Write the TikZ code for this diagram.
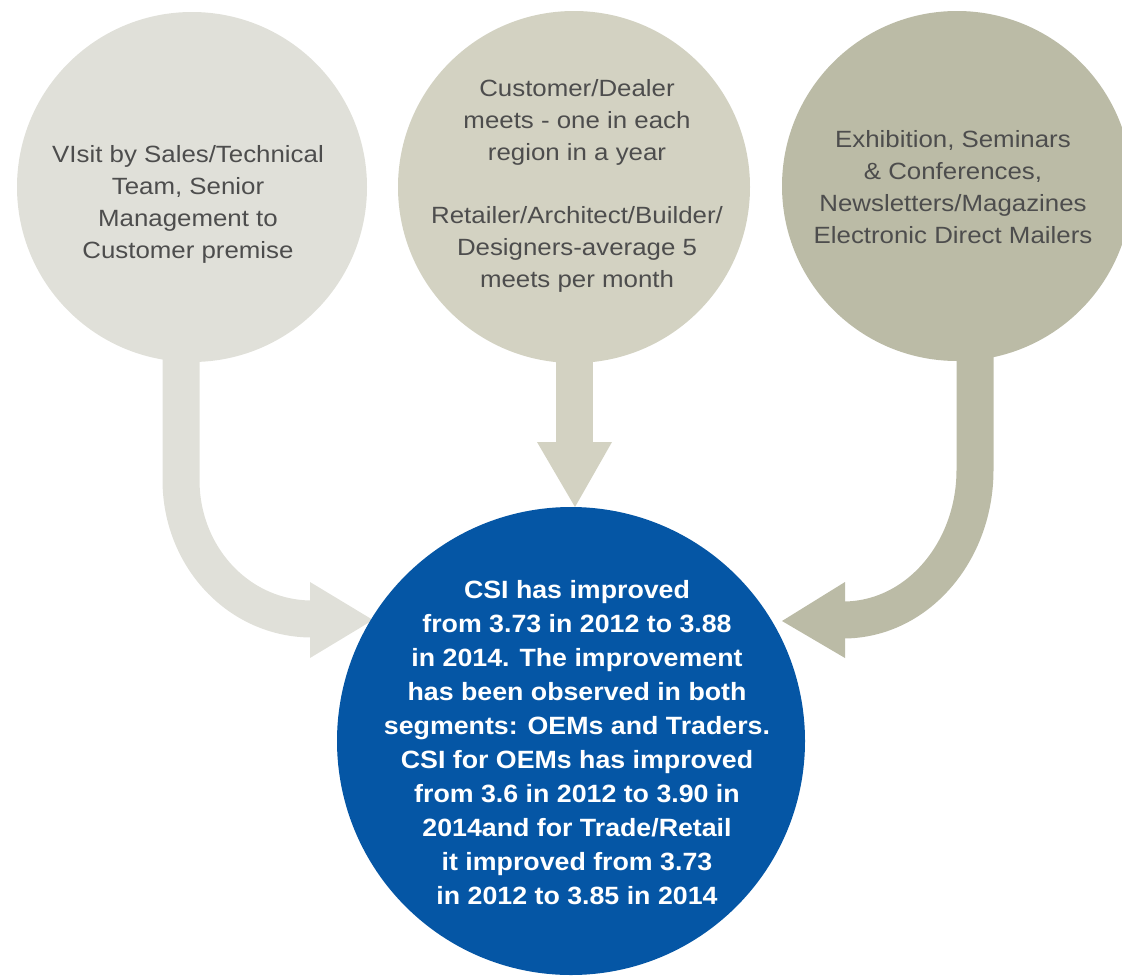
\documentclass[tikz,border=0pt]{standalone}
\usepackage{fontspec}
\setmainfont{Liberation Sans}
\newfontfamily\greyface[FakeStretch=1.1]{Liberation Sans}
\newfontfamily\blueface[FakeStretch=1.07]{Liberation Sans}
\definecolor{toneA}{HTML}{E0E0D9}
\definecolor{toneB}{HTML}{D3D2C2}
\definecolor{toneC}{HTML}{BBBBA6}
\definecolor{csiblue}{HTML}{0556A5}
\definecolor{bodytext}{HTML}{4D4D4D}
\begin{document}
\begin{tikzpicture}[x=1pt,y=-1pt,
  bubble/.style={circle, inner sep=0pt, minimum size=#1},
  greytext/.style={align=center, anchor=base, text=bodytext,
    font=\greyface\fontsize{23.5}{31.7}\selectfont},
  bluetext/.style={align=center, anchor=base, text=white,
    font=\blueface\bfseries\fontsize{25}{34}\selectfont},
  stem/.style={line width=37pt}]
\useasboundingbox (0,0) rectangle (1122,977);
\clip (0,0) rectangle (1122,977);

% curved and straight arrow shafts, drawn beneath the circles
\coordinate (lTop) at (181,330);
\coordinate (lBend) at (181,480);
\coordinate (lEnd) at (312,619);
\draw[stem, toneA] (lTop) -- (lBend) .. controls (181,557) and (239,619) .. (lEnd);
\fill[toneA] (310,582) -- (373,620) -- (310,658) -- cycle;

\coordinate (mTop) at (574,330);
\coordinate (mEnd) at (574,443);
\draw[stem, toneB] (mTop) -- (mEnd);
\fill[toneB] (537,442) -- (612,442) -- (575,507) -- cycle;

\coordinate (rTop) at (975,330);
\coordinate (rBend) at (975,470);
\coordinate (rEnd) at (843,620);
\draw[stem, toneC] (rTop) -- (rBend) .. controls (975,552) and (917,620) .. (rEnd);
\fill[toneC] (845,582) -- (782,621) -- (845,658) -- cycle;

% source circles
\node[bubble=350pt, fill=toneA] (visit) at (192,187) {};
\node[bubble=352pt, fill=toneB] (meets) at (574,187) {};
\node[bubble=350pt, fill=toneC] (events) at (957,186) {};

% result circle
\node[bubble=468pt, fill=csiblue] (csi) at (571,741) {};

% texts (anchored at the baseline of their last line)
\node[greytext] (visitText) at (188,258)
  {VIsit by Sales/Technical\\Team, Senior\\Management to\\Customer premise};
\node[greytext] (meetsText) at (577,287)
  {Customer/Dealer\\meets - one in each\\region in a year\\[31.7pt]Retailer/Architect/Builder/\\Designers-average 5\\meets per month};
\node[greytext] (eventsText) at (953,243)
  {Exhibition, Seminars\\\& Conferences,\\Newsletters/Magazines\\Electronic Direct Mailers};
\node[bluetext] (csiText) at (577,904)
  {CSI has improved\\from 3.73 in 2012 to 3.88\\in 2014. The improvement\\has been observed in both\\segments: OEMs and Traders.\\CSI for OEMs has improved\\from 3.6 in 2012 to 3.90 in\\2014and for Trade/Retail\\it improved from 3.73\\in 2012 to 3.85 in 2014};
\end{tikzpicture}
\end{document}
